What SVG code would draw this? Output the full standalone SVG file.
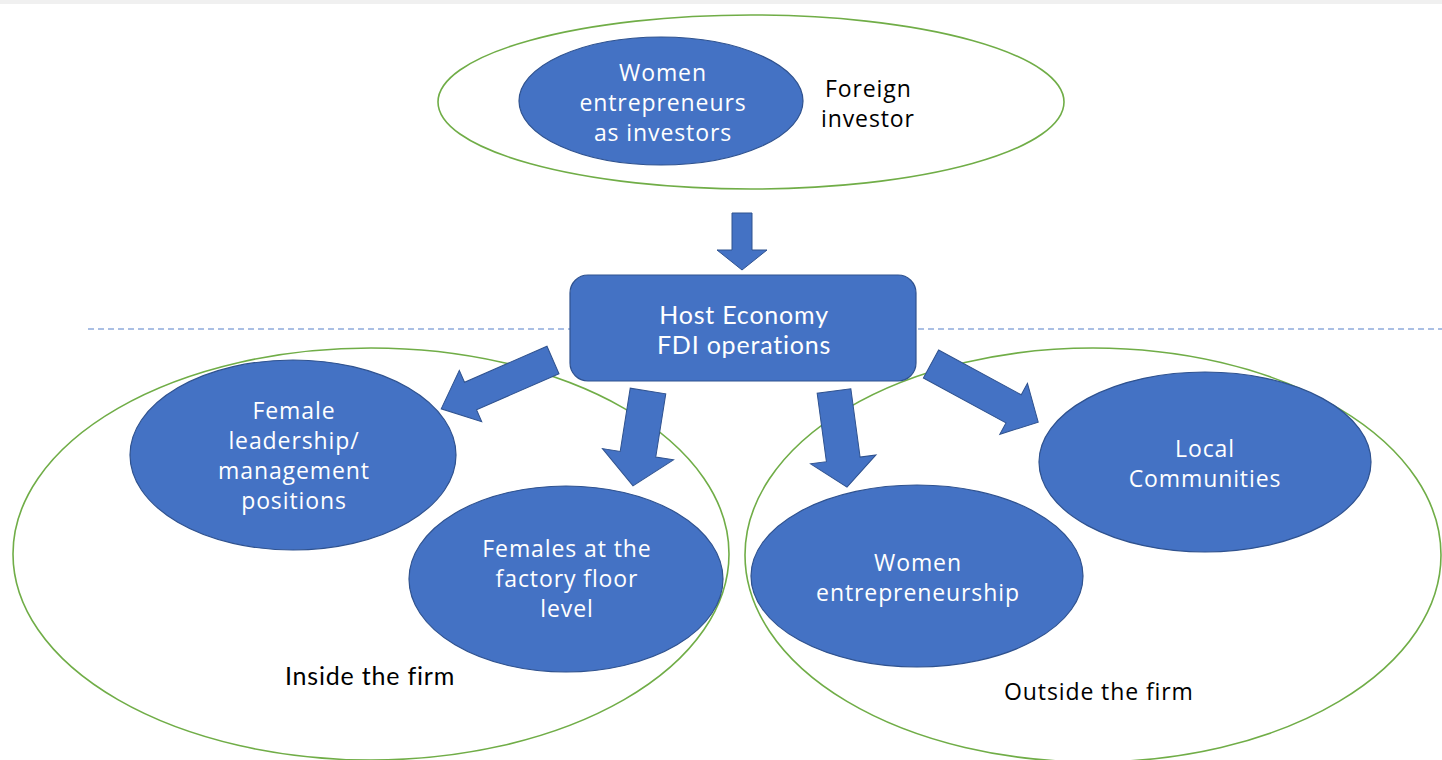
<svg xmlns="http://www.w3.org/2000/svg" width="1442" height="760" viewBox="0 0 1442 760">
<style>
.node{fill:#4472C4;stroke:#2F528F;stroke-width:1.2}
.ring{fill:none;stroke:#70AD47;stroke-width:1.6}
.arrow{fill:#4472C4;stroke:#2F528F;stroke-width:1}
.w{fill:#ffffff;font-family:"Open Sans","DejaVu Sans",sans-serif;font-size:23px;letter-spacing:0.9px;text-anchor:middle;dominant-baseline:central}
.wc{fill:#ffffff;font-family:Lato,"Open Sans",sans-serif;font-size:25px;letter-spacing:0.8px;text-anchor:middle;dominant-baseline:central}
.b{fill:#000000;font-family:"Open Sans","DejaVu Sans",sans-serif;font-size:23px;letter-spacing:0.9px;dominant-baseline:central}
.bc{fill:#000000;font-family:Lato,"Open Sans",sans-serif;font-size:25px;letter-spacing:0.8px;dominant-baseline:central}
</style>
<rect x="0" y="0" width="1442" height="760" fill="#ffffff"/>
<rect x="0" y="0" width="1442" height="4" fill="#f0f0f0"/>
<line x1="88" y1="329" x2="1442" y2="329" stroke="#8FAADC" stroke-width="1.3" stroke-dasharray="6,4"/>

<g id="inside-firm">
<ellipse class="ring" cx="371" cy="554" rx="358" ry="206"/>
<text class="bc" x="285" y="675">Inside the firm</text>
</g>
<g id="outside-firm">
<ellipse class="ring" cx="1093" cy="555" rx="348" ry="207"/>
<text class="b" x="1004" y="691">Outside the firm</text>
</g>
<g id="foreign-investor">
<ellipse class="ring" cx="751" cy="102" rx="313" ry="87"/>
<text class="b" x="825" y="88">Foreign</text>
<text class="b" x="821" y="118">investor</text>
</g>
<g id="women-investors">
<ellipse class="node" cx="661" cy="101" rx="142" ry="64"/>
<text class="w" x="663" y="72">Women</text>
<text class="w" x="663" y="102">entrepreneurs</text>
<text class="w" x="663" y="132">as investors</text>
</g>
<g id="host-economy">
<rect class="node" x="570" y="275" width="346" height="106" rx="18"/>
<text class="wc" x="744" y="314">Host Economy</text>
<text class="wc" x="744" y="344">FDI operations</text>
</g>
<g id="female-leadership">
<ellipse class="node" cx="293" cy="455" rx="163" ry="95"/>
<text class="w" x="294" y="410">Female</text>
<text class="w" x="294" y="440">leadership/</text>
<text class="w" x="294" y="470">management</text>
<text class="w" x="294" y="500">positions</text>
</g>
<g id="factory-floor">
<ellipse class="node" cx="566" cy="579" rx="157" ry="93"/>
<text class="w" x="567" y="548">Females at the</text>
<text class="w" x="567" y="578">factory floor</text>
<text class="w" x="567" y="608">level</text>
</g>
<g id="women-entrepreneurship">
<ellipse class="node" cx="917" cy="576" rx="166" ry="91"/>
<text class="w" x="918" y="562">Women</text>
<text class="w" x="918" y="592">entrepreneurship</text>
</g>
<g id="local-communities">
<ellipse class="node" cx="1205" cy="462" rx="166" ry="90"/>
<text class="w" x="1205" y="448">Local</text>
<text class="w" x="1205" y="478">Communities</text>
</g>

<g id="connectors">
<polygon class="arrow" transform="translate(742,213) rotate(90)" points="0,-10 37,-10 37,-25 57,0 37,25 37,10 0,10"/>
<polygon class="arrow" transform="translate(553,360) rotate(156.4)" points="0,-15 90,-15 90,-28 122,0 90,28 90,15 0,15"/>
<polygon class="arrow" transform="translate(648,391) rotate(99)" points="0,-18 64,-18 64,-36 96,0 64,36 64,18 0,18"/>
<polygon class="arrow" transform="translate(834,391) rotate(82.3)" points="0,-17 69,-17 69,-33 97,0 69,33 69,17 0,17"/>
<polygon class="arrow" transform="translate(931,364) rotate(28.5)" points="0,-16 94,-16 94,-29 122,0 94,29 94,16 0,16"/>
</g>
</svg>
